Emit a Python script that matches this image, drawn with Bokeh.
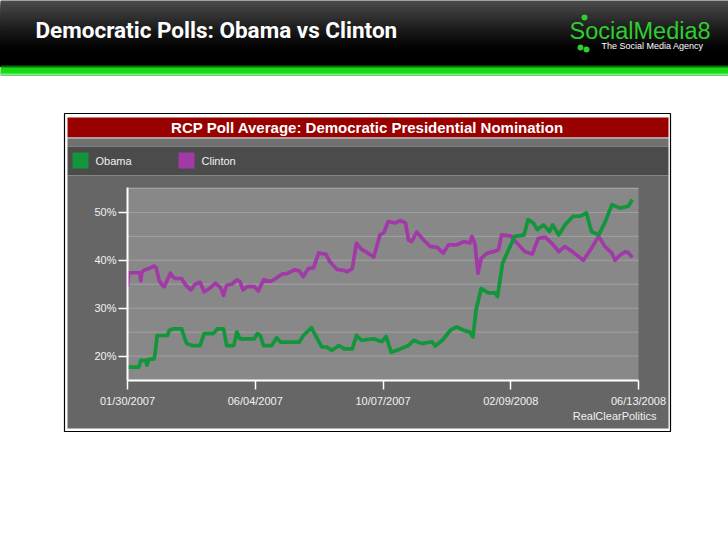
import datetime as dt
from bokeh.plotting import figure
from bokeh.models import (Range1d, FixedTicker, DatetimeTickFormatter,
                          PrintfTickFormatter, BoxAnnotation, Label, ColumnDataSource)
from bokeh.embed import file_html
from bokeh.resources import INLINE

# ---------------- data ----------------
START = dt.datetime(2007, 1, 30)
END = dt.datetime(2008, 6, 13)
x_tick_dates = [dt.datetime(2007, 1, 30), dt.datetime(2007, 6, 4), dt.datetime(2007, 10, 7),
                dt.datetime(2008, 2, 9), dt.datetime(2008, 6, 13)]
Y_MIN, Y_MAX = 14.9, 55.2
y_tick_values = [20, 30, 40, 50]
y_grid_values = [20, 25, 30, 35, 40, 45, 50, 55]

# days since 01/30/2007
obama_day = [0, 11, 13, 18, 19, 21, 26, 27, 29, 39, 41, 45, 53, 56, 58, 63, 71, 75, 84, 88,
             94, 97, 104, 107, 110, 124, 127, 130, 133, 141, 146, 150, 163, 168, 172, 180,
             185, 190, 195, 200, 207, 212, 220, 224, 229, 241, 249, 253, 258, 267, 275, 280,
             288, 298, 301, 308, 316, 322, 329, 335, 338, 341, 346, 353, 360, 362, 367, 372,
             379, 388, 392, 397, 401, 407, 413, 416, 422, 428, 436, 443, 449, 454, 461, 467,
             474, 482, 490, 494]
obama_pct = [17.7, 17.7, 19.1, 19.1, 18.1, 19.3, 19.4, 20.5, 24.3, 24.3, 25.4, 25.7, 25.7,
             23.6, 22.6, 22.2, 22.2, 24.7, 24.7, 25.7, 25.7, 22.2, 22.2, 25.0, 23.6, 23.6,
             24.7, 24.3, 22.2, 22.2, 23.8, 22.9, 22.9, 22.9, 24.3, 25.9, 23.9, 21.9, 21.9,
             21.2, 22.2, 21.5, 21.5, 24.3, 23.3, 23.6, 23.0, 24.1, 20.8, 21.5, 22.2, 23.3,
             22.6, 23.0, 22.1, 23.3, 25.4, 26.1, 25.4, 25.0, 24.0, 29.6, 34.1, 33.2, 33.2,
             32.4, 39.4, 41.8, 45.0, 45.3, 48.5, 47.8, 46.4, 47.4, 46.0, 47.4, 45.3, 47.4,
             49.2, 49.2, 49.9, 46.0, 45.3, 47.8, 51.6, 50.9, 51.3, 52.7]

clinton_day = [0, 1, 12, 13, 14, 16, 21, 26, 28, 31, 34, 36, 39, 42, 44, 47, 53, 57, 62, 66,
               71, 75, 80, 86, 91, 94, 97, 102, 107, 110, 113, 117, 124, 128, 133, 140, 145,
               151, 156, 163, 168, 172, 177, 182, 187, 194, 198, 205, 211, 215, 220, 224, 229,
               233, 241, 247, 251, 255, 262, 267, 272, 275, 278, 283, 290, 296, 303, 309, 314,
               322, 329, 335, 337, 340, 343, 346, 352, 358, 363, 366, 375, 381, 389, 396, 402,
               409, 415, 422, 428, 437, 446, 453, 461, 467, 474, 477, 482, 487, 490, 494]
clinton_pct = [34.5, 37.4, 37.4, 35.7, 37.5, 37.9, 38.3, 38.8, 38.5, 35.8, 34.8, 34.5, 36.0,
               37.3, 36.6, 36.2, 36.2, 34.8, 33.8, 35.0, 35.4, 33.4, 34.1, 35.2, 34.3, 32.7,
               34.8, 35.0, 35.9, 35.6, 33.8, 34.5, 34.5, 33.6, 35.9, 35.6, 36.2, 37.1, 37.2,
               38.0, 37.8, 36.6, 38.3, 38.4, 41.5, 41.3, 39.7, 38.1, 37.9, 37.6, 38.3, 43.6,
               42.3, 41.8, 40.7, 45.3, 45.8, 48.1, 47.8, 48.3, 47.8, 44.2, 43.9, 45.9, 44.2,
               42.9, 42.7, 41.5, 43.2, 43.2, 43.9, 43.6, 45.0, 43.4, 37.3, 40.4, 41.5, 41.8,
               42.2, 45.3, 45.1, 43.6, 41.8, 41.3, 44.6, 44.8, 43.6, 41.8, 42.9, 41.5, 40.0,
               42.2, 45.0, 42.9, 41.5, 40.0, 41.1, 41.8, 41.6, 40.6]

series_names = ["Obama", "Clinton"]
series_colors = ["#12963b", "#a13aa6"]


def ms(d):
    return (d - dt.datetime(1970, 1, 1)).total_seconds() * 1000.0


# ---------------- layout geometry (page pixels) ----------------
W, H = 728, 546
PL, PR, PT, PB = 127, 638, 187, 380   # plot-area edges on the page

x0, x1 = ms(START), ms(END)
xs = (x1 - x0) / (PR - PL)
ys = (Y_MAX - Y_MIN) / (PB - PT)
x_range = Range1d(x0 - PL * xs, x1 + (W - PR) * xs)
y_range = Range1d(Y_MIN - (H - PB) * ys, Y_MAX + PT * ys)

p = figure(width=W, height=H, x_axis_type="datetime",
           x_range=x_range, y_range=y_range,
           output_backend="svg", toolbar_location=None,
           min_border=0, min_border_left=0, min_border_right=0,
           min_border_top=0, min_border_bottom=0,
           background_fill_color="white", border_fill_color="white",
           outline_line_color=None,
           styles={"position": "absolute", "top": "0px", "left": "0px"})


def box(l, r, t, b, color, level="image", line=None, lw=1):
    ba = BoxAnnotation(left=l, right=r, top=t, bottom=b,
                       left_units="canvas", right_units="canvas",
                       top_units="canvas", bottom_units="canvas",
                       fill_color=color if color else "white", fill_alpha=1 if color else 0,
                       line_color=line if line else "black", line_width=lw,
                       line_alpha=1 if line else 0, level=level)
    p.add_layout(ba)
    return ba


def label(x, y, text, size, color="white", bold=False, align="left", font="Liberation Sans"):
    p.add_layout(Label(x=x, y=y, x_units="canvas", y_units="canvas", text=text,
                       text_font=font, text_font_size=size, text_color=color,
                       text_font_style="bold" if bold else "normal",
                       text_align=align, text_baseline="middle"))


# header gradient (overlapping bands so no seams show)
box(0, W, 0, 66, "#000000")
for yy in range(0, 50):
    f = 1 - yy / 50.0
    c = int(round(76 * f ** 1.2))
    box(0, W, yy, 66, "#%02x%02x%02x" % (c, c, c))
box(0, W, 50, 66, "#000000")
box(0, W, 65, 75, "#0b6e0b")
box(0, W, 67, 75, "#16dc16")
box(0, W, 73, 75, "#86e886")

# chart box
box(64, 670, 113, 431, None, line="black", lw=1.2)
box(67, 668, 117, 137, "#990000")
box(67, 668, 137, 138, "#b0b0b0")
box(67, 668, 138, 146, "#707070")
box(67, 668, 146, 175, "#4b4b4b")
box(67, 668, 175, 428, "#666666")
p.add_layout(BoxAnnotation(left=x0, right=x1, bottom=Y_MIN, top=Y_MAX,
                           fill_color="#888888", fill_alpha=1, line_alpha=0, level="image"))

# legend swatches
legend_x = [72, 178]
for col, lx in zip(series_colors, legend_x):
    box(lx, lx + 16, 152, 168, col)

# ---------------- grid & data lines ----------------
p.segment(x0=[START] * len(y_grid_values), x1=[END] * len(y_grid_values),
          y0=y_grid_values, y1=y_grid_values, line_color="#a2a2a2", line_width=1)

obama_src = ColumnDataSource(dict(x=[START + dt.timedelta(days=d) for d in obama_day], y=obama_pct))
clinton_src = ColumnDataSource(dict(x=[START + dt.timedelta(days=d) for d in clinton_day], y=clinton_pct))
p.line("x", "y", source=clinton_src, line_color=series_colors[1], line_width=3.7, line_join="round")
p.line("x", "y", source=obama_src, line_color=series_colors[0], line_width=3.7, line_join="round")

# ---------------- texts ----------------
label(35, 29, "Democratic Polls: Obama vs Clinton", "22.5px", bold=True, font="Roboto")
label(569, 30, "SocialMedia8", "23.5px", color="#2fcc2f")
label(601, 45, "The Social Media Agency", "9px", color="white")
for (cx, cy, r) in [(584, 17, 3), (580, 47, 3), (586, 49, 3)]:
    b = box(cx - r, cx + r, cy - r, cy + r, "#2fcc2f", level="annotation")
    b.border_radius = r

label(367, 127, "RCP Poll Average: Democratic Presidential Nomination", "15px", bold=True,
      align="center")
for name, lx in zip(series_names, legend_x):
    label(lx + 23, 160, name, "11px", color="#f0f0f0")
label(656, 415, "RealClearPolitics", "11px", color="#f0f0f0", align="right")

# ---------------- axes ----------------
p.xgrid.visible = False
p.ygrid.visible = False

p.yaxis.ticker = FixedTicker(ticks=y_tick_values)
p.yaxis.formatter = PrintfTickFormatter(format="%d%%")
p.yaxis.fixed_location = x0
p.yaxis.bounds = (Y_MIN, Y_MAX)

p.xaxis.ticker = FixedTicker(ticks=[ms(d) for d in x_tick_dates])
fmt = "%m/%d/%Y"
p.xaxis.formatter = DatetimeTickFormatter(days=fmt, months=fmt, years=fmt, hours=fmt,
                                          hourmin=fmt, minutes=fmt, minsec=fmt, seconds=fmt,
                                          milliseconds=fmt, microseconds=fmt)
p.xaxis.fixed_location = Y_MIN
p.xaxis.bounds = (x0, x1)

for ax in (p.xaxis[0], p.yaxis[0]):
    ax.axis_line_color = "white"
    ax.axis_line_width = 2
    ax.major_tick_line_color = "white"
    ax.major_tick_line_width = 1.5
    ax.major_tick_out = 9
    ax.major_tick_in = 0
    ax.minor_tick_line_color = None
    ax.major_label_text_color = "#f2f2f2"
    ax.major_label_text_font = "Liberation Sans"
    ax.major_label_text_font_size = "11px"
p.yaxis.major_label_standoff = 2
p.xaxis.major_label_standoff = 5

open("out.html", "w").write(file_html(p, INLINE))
